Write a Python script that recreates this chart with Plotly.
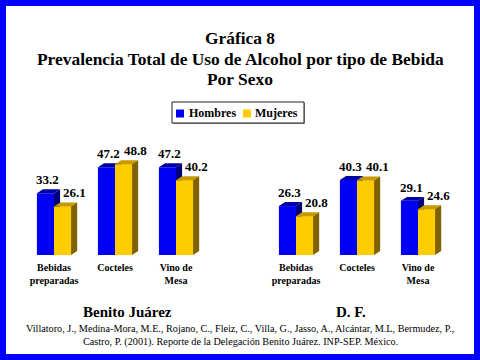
import plotly.graph_objects as go

# ---------------- data ----------------
categories = ["Bebidas<br>preparadas", "Cocteles", "Vino de<br>Mesa"]
series_names = ["Hombres", "Mujeres"]
bj_hombres = [33.2, 47.2, 47.2]   # Benito Juárez
bj_mujeres = [26.1, 48.8, 40.2]
df_hombres = [26.3, 40.3, 29.1]   # D. F.
df_mujeres = [20.8, 40.1, 24.6]
panel_labels = ["Benito Juárez", "D. F."]
title_lines = ["Gráfica 8",
               "Prevalencia Total de Uso de Alcohol por tipo de Bebida",
               "Por Sexo"]
source_lines = ["Villatoro, J., Medina-Mora, M.E., Rojano, C., Fleiz, C., Villa, G., Jasso, A., Alcántar, M.L, Bermudez, P.,",
                "Castro, P. (2001). Reporte de la Delegación Benito Juárez. INP-SEP. México."]

# ---------------- style ----------------
W, H = 480, 360
SERIF = "Liberation Serif, Times New Roman, serif"
BAR_W = 0.28
DX = 0.1
DY = 2.15
COLS = {
    "Hombres": dict(front="#0000F2", top="#0000A8", side="#00007A"),
    "Mujeres": dict(front="#FFCC00", top="#C89A00", side="#806200"),
}

fig = go.Figure()


def poly_trace(xs, ys, color, xa, ya):
    return go.Scatter(x=xs, y=ys, mode="lines", fill="toself", fillcolor=color,
                      line=dict(width=0, color=color), hoverinfo="skip",
                      showlegend=False, xaxis=xa, yaxis=ya)


def add_panel(hom, muj, xa, ya):
    pos = list(range(len(categories)))
    for name, vals, off in ((series_names[0], hom, -BAR_W), (series_names[1], muj, 0.0)):
        fig.add_trace(go.Bar(x=pos, y=vals, width=BAR_W, offset=off, name=name,
                             marker=dict(color=COLS[name]["front"], line=dict(width=0)),
                             showlegend=False, xaxis=xa, yaxis=ya))
    # 3D faces, drawn in painter's order
    for name, vals, off in ((series_names[0], hom, -BAR_W), (series_names[1], muj, 0.0)):
        fx, fy, tx, ty, sx, sy = [], [], [], [], [], []
        for p, h in zip(pos, vals):
            x0 = p + off
            x1 = x0 + BAR_W
            fx += [x0, x1, x1, x0, x0, None]
            fy += [0, 0, h, h, 0, None]
            tx += [x0, x1, x1 + DX, x0 + DX, x0, None]
            ty += [h, h, h + DY, h + DY, h, None]
            sx += [x1, x1 + DX, x1 + DX, x1, x1, None]
            sy += [0, DY, h + DY, h, 0, None]
        if name == series_names[1]:
            fig.add_trace(poly_trace(fx, fy, COLS[name]["front"], xa, ya))
        fig.add_trace(poly_trace(tx, ty, COLS[name]["top"], xa, ya))
        fig.add_trace(poly_trace(sx, sy, COLS[name]["side"], xa, ya))
    # value labels
    for p, h in zip(pos, hom):
        fig.add_annotation(x=p - BAR_W / 2, y=h + DY, xref=xa, yref=ya,
                           text=f"<b>{h:.1f}</b>", showarrow=False, xshift=2, yshift=0,
                           yanchor="bottom", font=dict(family=SERIF, size=13, color="black"))
    for p, h in zip(pos, muj):
        fig.add_annotation(x=p + BAR_W / 2, y=h + DY, xref=xa, yref=ya,
                           text=f"<b>{h:.1f}</b>", showarrow=False, xshift=12, yshift=0,
                           yanchor="bottom", font=dict(family=SERIF, size=13, color="black"))


add_panel(bj_hombres, bj_mujeres, "x", "y")
add_panel(df_hombres, df_mujeres, "x2", "y2")

ticktext = [f"<b>{c}</b>" for c in categories]
common_x = dict(tickmode="array", tickvals=list(range(len(categories))), ticktext=ticktext,
                showgrid=False, zeroline=False, showline=False, ticks="",
                ticklabelstandoff=5,
                tickfont=dict(family=SERIF, size=10, color="black"), fixedrange=True)
y_dom = [1 - 255 / H, 1 - 95 / H]
common_y = dict(range=[0, 160 / 1.86], domain=y_dom, showgrid=False, zeroline=False,
                showline=False, showticklabels=False, ticks="", fixedrange=True)

fig.update_layout(
    width=W, height=H,
    margin=dict(l=0, r=0, t=0, b=0),
    paper_bgcolor="white", plot_bgcolor="rgba(0,0,0,0)",
    barmode="overlay",
    xaxis=dict(domain=[0, 0.5], range=[-54 / 61, 186 / 61], anchor="y", **common_x),
    xaxis2=dict(domain=[0.5, 1], range=[-56 / 61, 184 / 61], anchor="y2", **common_x),
    yaxis=dict(anchor="x", **common_y),
    yaxis2=dict(anchor="x2", **common_y),
    showlegend=False,
)


def px(x):
    return x / W


def py(y):
    return 1 - y / H


def paper_rect(x0, x1, y0, y1, fill, line_color=None, line_width=0, layer="above"):
    fig.add_shape(type="rect", xref="paper", yref="paper",
                  x0=px(x0), x1=px(x1), y0=py(y1), y1=py(y0), layer=layer,
                  line=dict(color=line_color or fill, width=line_width), fillcolor=fill)


# legend (box, swatches, labels)
paper_rect(173, 305, 103, 124, "#999999")
paper_rect(172, 304, 102, 123, "white", "#222222", 1)
for name, x0, tx in ((series_names[0], 176, 212.5), (series_names[1], 243, 276.5)):
    paper_rect(x0, x0 + 8, 109.5, 117.5, COLS[name]["front"])
    fig.add_annotation(x=px(tx), y=py(113), xref="paper", yref="paper", text=f"<b>{name}</b>",
                       showarrow=False, xanchor="center", yanchor="middle",
                       font=dict(family=SERIF, size=12, color="black"))

# titles
for txt, yc in zip(title_lines, [38, 59, 79]):
    fig.add_annotation(x=0.5, y=py(yc), xref="paper", yref="paper", text=f"<b>{txt}</b>",
                       showarrow=False, xanchor="center", yanchor="middle",
                       font=dict(family=SERIF, size=17.4, color="black"))
# panel labels
for txt, xc in zip(panel_labels, [127, 351]):
    fig.add_annotation(x=px(xc), y=py(312), xref="paper", yref="paper", text=f"<b>{txt}</b>",
                       showarrow=False, xanchor="center", yanchor="middle",
                       font=dict(family=SERIF, size=15, color="black"))
# source
for txt, yc in zip(source_lines, [328, 342]):
    fig.add_annotation(x=0.5, y=py(yc), xref="paper", yref="paper", text=txt,
                       showarrow=False, xanchor="center", yanchor="middle",
                       font=dict(family=SERIF, size=10.2, color="black"))

# frame (blue border around the whole picture), as four filled strips
FRAME = "#0000FF"
paper_rect(0, 480, 0, 6, FRAME)        # top
paper_rect(0, 480, 354, 360, FRAME)    # bottom
paper_rect(0, 6, 0, 360, FRAME)        # left
paper_rect(474, 480, 0, 360, FRAME)    # right

fig.write_html("out.html", config={"displayModeBar": False},
               post_script="document.body.style.margin='0';document.body.style.overflow='hidden';")
